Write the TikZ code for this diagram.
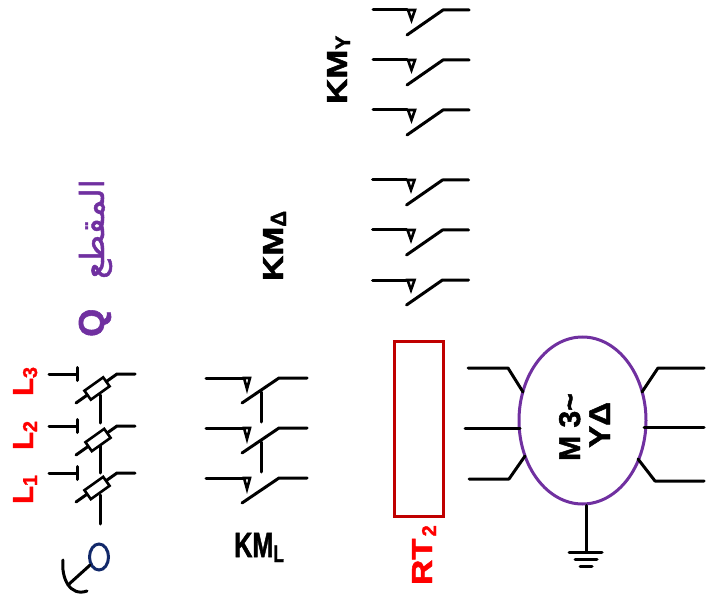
\documentclass[tikz,border=0pt]{standalone}
\usepackage{graphicx}
\usepackage{fontspec}
\usetikzlibrary{shapes.geometric}
\setmainfont{Liberation Sans}[BoldFeatures={FakeBold=1.6}]
\newfontfamily\arabicfont[Script=Arabic,FakeBold=1.5]{DejaVu Sans}
\TeXXeTstate=1
\definecolor{mypurple}{HTML}{7030A0}
\definecolor{myred}{HTML}{FF0000}
\definecolor{mydkred}{HTML}{C00000}
\definecolor{mynavy}{HTML}{12296A}
\newcommand{\sz}[1]{\fontsize{#1}{#1}\selectfont}
\newcommand{\lbl}[2]{#1\raisebox{-4pt}{\sz{20}#2}}
\tikzset{
  wire/.style={line width=3pt,black,line cap=round,line join=round},
  vtext/.style={rotate=90,anchor=base west,inner sep=0pt,font=\bfseries},
  contactblade/.pic={
    \draw[wire] (0,0) -- (34,0);
    \draw[line width=2.6pt,line join=miter] (35,0) -- (42,0) -- (38.5,10) -- cycle;
    \draw[wire] (34,25) -- (70,0) -- (96,0);
  },
  fuse/.style={draw=black,line width=2.6pt,fill=white,minimum width=23pt,minimum height=11pt,inner sep=0pt,rotate=35.5}
}
\begin{document}
\begin{tikzpicture}[x=1pt,y=-1pt]
\useasboundingbox (0,0) rectangle (715,596);
% KM_Y contacts
\foreach \y/\n in {10/y1,60/y2,110/y3}{ \pic (\n) at (373,\y) {contactblade}; }
% KM_Delta contacts
\foreach \y/\n in {180/d1,230/d2,280/d3}{ \pic (\n) at (372.5,\y) {contactblade}; }
% KM_L contacts
\foreach \y/\n in {378/l1,428/l2,478/l3}{ \begin{scope}[xshift=206pt,yshift=-\y pt]
  \draw[wire] (0,0) -- (38,0);
  \draw[line width=2.6pt,line join=miter] (38,0) -- (44,0) -- (41,11) -- cycle;
  \draw[wire] (36,25) -- (73,0) -- (101,0);
\end{scope}}
\coordinate (lt1) at (261,392); \coordinate (lb1) at (261,422);
\coordinate (lt2) at (261,442); \coordinate (lb2) at (261,472);
\draw[wire] (lt1) -- (lb1);
\draw[wire] (lt2) -- (lb2);
% Q breaker
\foreach \y/\by/\n in {374/403/a,426/455/b,473/502/c}{
  \coordinate (t\n) at (49,\y); \coordinate (u\n) at (77,\y);
  \coordinate (p\n) at (76,\by); \coordinate (q\n) at (117,\y); \coordinate (r\n) at (135,\y);
  \draw[wire] (t\n) -- (u\n);
  \draw[wire] ([yshift=-6.5pt]u\n) -- ([yshift=6.5pt]u\n);
  \draw[wire] (p\n) -- (q\n) -- (r\n);
}
\draw[wire] (100,395) -- (100,423);
\draw[wire] (100,445) -- (100,473);
\draw[wire] (100,495) -- (100,524);
\node[fuse] (fa) at (97,388.5) {};
\node[fuse] (fb) at (98,440) {};
\node[fuse] (fc) at (97,488) {};
% operating handle
\node[draw=mynavy,line width=3pt,ellipse,minimum width=19pt,minimum height=26pt,inner sep=0pt] (hdl) at (99,557) {};
\coordinate (hand) at (68,585);
\draw[wire] (hdl) -- (hand);
\coordinate (ha) at (63,560); \coordinate (hb) at (87,591);
\draw[wire] (ha) .. controls (61,578) and (70,597) .. (hb);
% RT2
\node[draw=mydkred,line width=3pt,minimum width=49pt,minimum height=175pt,inner sep=0pt] (rt) at (418.5,428.5) {};
% motor
\node[draw=mypurple,line width=3pt,ellipse,minimum width=127pt,minimum height=167pt,inner sep=0pt] (motor) at (582.5,420.5) {};
\draw[wire] (468,368) -- (508,368) -- (523,392);
\draw[wire] (465,428) -- (520,428);
\draw[wire] (469,479) -- (509,479) -- (525,456);
\draw[wire] (704,368) -- (658,368) -- (642,392);
\draw[wire] (704,427) -- (644,427);
\draw[wire] (704,481) -- (655,481) -- (638,459);
\coordinate (gnd) at (586,552);
\draw[wire] (motor.south -| gnd) -- (gnd);
\draw[wire] (569,552) -- (602,552);
\draw[wire] (575,559) -- (597,559);
\draw[wire] (580,566) -- (592,566);
% labels
\node[vtext,text=myred,font=\bfseries\sz{29}] (L1) at (33,504) {\lbl{L}{1}};
\node[vtext,text=myred,font=\bfseries\sz{29}] (L2) at (33,450) {\lbl{L}{2}};
\node[vtext,text=myred,font=\bfseries\sz{29}] (L3) at (33,396) {\lbl{L}{3}};
\node[vtext,text=mypurple,font=\bfseries\sz{36}] (Q) at (104,337) {Q};
\node[vtext,text=mypurple,font=\sz{33}] (qar) at (104,279) {\arabicfont\beginR المقطع\endR};
\node[vtext,font=\bfseries\sz{29}] (kmy) at (347,104) {\scalebox{1.2}[1]{KM}\raisebox{-3pt}{\sz{21}Y}};
\node[vtext,font=\bfseries\sz{29}] (kmd) at (283,281) {\scalebox{1.2}[1]{KM}\raisebox{-3pt}{\sz{22}Δ}};
\node[inner sep=0pt,anchor=base west,font=\bfseries\sz{35}] (kml) at (234,557) {\scalebox{0.72}[1]{KM}\raisebox{-5pt}{\scalebox{0.72}[1]{\sz{24}L}}};
\node[vtext,text=myred,font=\bfseries\sz{29}] (rtl) at (432,585) {\scalebox{1.2}[1]{RT}\hspace{2pt}\raisebox{-4pt}{\sz{20}2}};
\node[vtext,font=\bfseries\sz{30}] (m3) at (580,461) {M 3\textasciitilde};
\node[vtext,font=\bfseries\sz{30}] (yd) at (610,448) {\scalebox{1.1}[1]{YΔ}};
\end{tikzpicture}
\end{document}
